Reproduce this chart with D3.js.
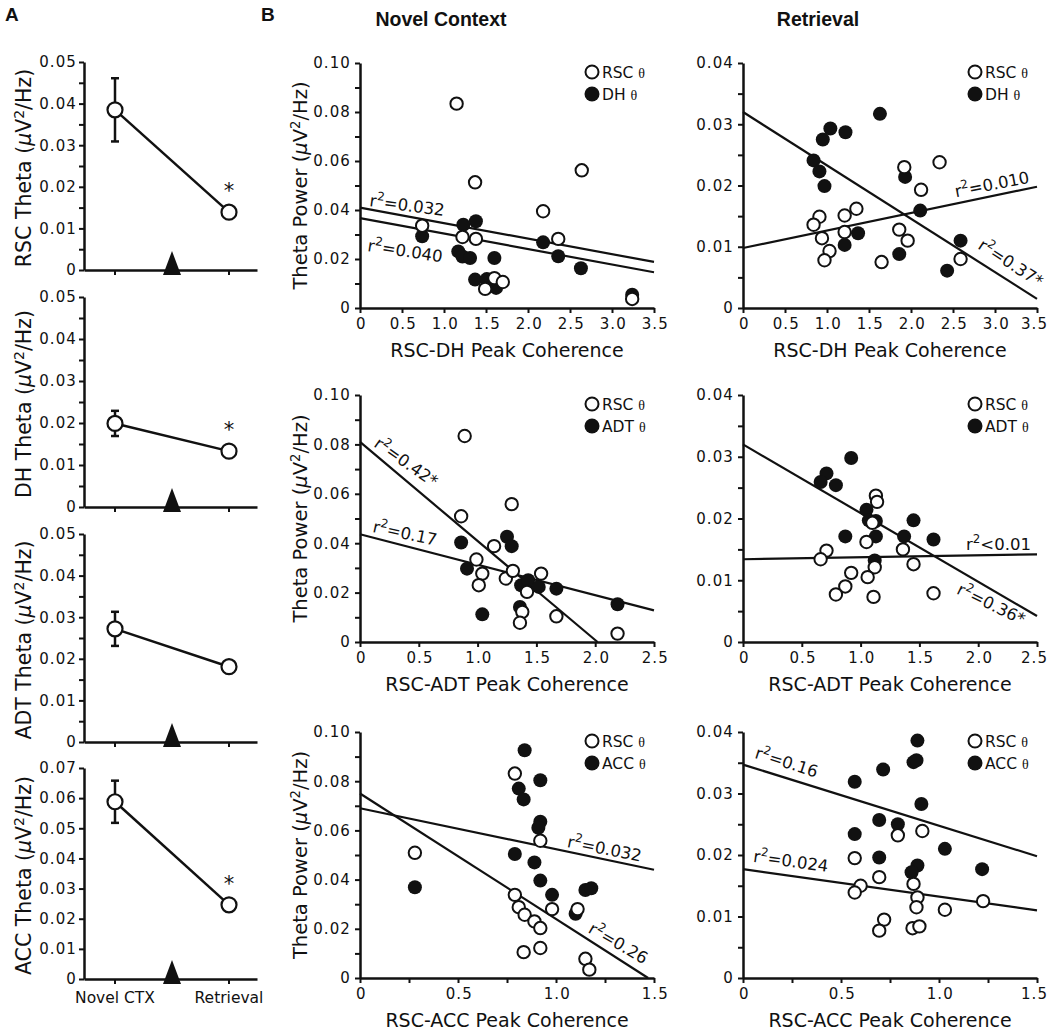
<!DOCTYPE html>
<html><head><meta charset="utf-8">
<script src="https://cdn.jsdelivr.net/npm/d3@7"></script>
<style>body{margin:0;background:#fff}svg{display:block}</style>
</head><body><svg id="c" width="1050" height="1030"></svg>
<script>
// ---------------- DATA ----------------
// Panel A: mean theta power (uV^2/Hz)
const aGroups = ["Novel CTX", "Retrieval"];
const aRegions = ["RSC", "DH", "ADT", "ACC"];
const aNovelMean = [0.0385, 0.0199, 0.0272, 0.0588];
const aNovelSem = [0.0076, 0.0030, 0.0041, 0.0070];
const aRetrievalMean = [0.0139, 0.0133, 0.0181, 0.0246];
const aSignificant = [true, true, false, true];
const aYMax = [0.05, 0.05, 0.05, 0.07];
const aYTickStep = [0.005, 0.005, 0.005, 0.01];

// Panel B scatter data: [coherence, theta power]
const ncDH_rsc = [[1.15,0.0834],[1.37,0.0513],[2.64,0.0562],[2.18,0.0395],[0.74,0.0336],[2.36,0.0282],[1.22,0.029],[1.38,0.0282],[1.60,0.0122],[1.70,0.0106],[1.49,0.0078],[3.24,0.0037]];
const ncDH_dh = [[0.74,0.0293],[1.23,0.034],[1.38,0.0354],[1.17,0.0231],[1.22,0.021],[1.31,0.0204],[1.60,0.0204],[1.37,0.0116],[1.51,0.0118],[1.62,0.0082],[2.18,0.0268],[2.36,0.0211],[2.63,0.0162],[3.24,0.0054]];
const retDH_rsc = [[2.34,0.0238],[1.92,0.0230],[2.12,0.0193],[1.35,0.0162],[1.21,0.0151],[0.91,0.0149],[0.84,0.0136],[0.94,0.0114],[1.21,0.0124],[1.03,0.0093],[0.97,0.0078],[1.65,0.0075],[1.86,0.0128],[1.96,0.0110],[2.59,0.0080]];
const retDH_dh = [[1.63,0.0317],[1.04,0.0293],[0.95,0.0275],[1.22,0.0287],[0.84,0.0241],[0.91,0.0223],[0.97,0.0199],[1.93,0.0214],[2.11,0.0159],[1.37,0.0122],[1.21,0.0103],[1.86,0.0088],[2.59,0.0110],[2.43,0.0061]];
const ncADT_rsc = [[0.89,0.0834],[1.29,0.0558],[0.86,0.0509],[1.14,0.0388],[0.99,0.0334],[1.04,0.0277],[1.01,0.0230],[1.24,0.0257],[1.30,0.0288],[1.54,0.0277],[1.42,0.0203],[1.38,0.0122],[1.36,0.0078],[1.67,0.0104],[2.19,0.0034]];
const ncADT_adt = [[0.86,0.0403],[0.91,0.0297],[1.25,0.0426],[1.29,0.0388],[1.37,0.0230],[1.43,0.0250],[1.52,0.0223],[1.67,0.0216],[1.36,0.0142],[1.04,0.0112],[2.19,0.0153]];
const retADT_rsc = [[1.13,0.0237],[1.14,0.0227],[1.10,0.0193],[1.05,0.0162],[0.71,0.0148],[0.66,0.0134],[1.36,0.0150],[1.45,0.0126],[1.12,0.0121],[0.92,0.0112],[1.06,0.0105],[0.87,0.0090],[0.79,0.0077],[1.11,0.0073],[1.62,0.0079]];
const retADT_adt = [[0.92,0.0298],[0.71,0.0273],[0.66,0.0259],[0.79,0.0254],[1.05,0.0214],[1.07,0.0197],[1.13,0.0196],[1.13,0.0171],[0.87,0.0171],[1.37,0.0171],[1.45,0.0197],[1.62,0.0166],[1.12,0.0132]];
const ncACC_rsc = [[0.79,0.0831],[0.92,0.0558],[0.28,0.0509],[0.79,0.0338],[0.81,0.0288],[0.84,0.0257],[0.89,0.0230],[0.92,0.0203],[0.98,0.0280],[1.11,0.0280],[0.835,0.0105],[0.92,0.0122],[1.15,0.0078],[1.17,0.0034]];
const ncACC_acc = [[0.84,0.0926],[0.92,0.0804],[0.81,0.0770],[0.835,0.0726],[0.92,0.0635],[0.91,0.0611],[0.79,0.0504],[0.89,0.0470],[0.92,0.0396],[0.98,0.0338],[0.28,0.0369],[1.10,0.0261],[1.15,0.0358],[1.18,0.0365]];
const retACC_rsc = [[0.915,0.0239],[0.79,0.0232],[0.57,0.0195],[0.695,0.0164],[0.60,0.0150],[0.57,0.0139],[0.87,0.0153],[0.89,0.0131],[0.885,0.0115],[1.03,0.0111],[1.225,0.0125],[0.72,0.0095],[0.695,0.0077],[0.865,0.0081],[0.90,0.0084]];
const retACC_acc = [[0.89,0.0386],[0.87,0.0351],[0.885,0.0354],[0.715,0.0339],[0.57,0.0319],[0.91,0.0283],[0.695,0.0257],[0.79,0.0250],[0.57,0.0234],[0.695,0.0196],[1.03,0.0210],[0.89,0.0183],[0.86,0.0172],[1.22,0.0177]];

// Regression lines: [x0, y0, x1, y1]
const ncDH_fits = [[0,0.041,3.5,0.0188],[0,0.0367,3.5,0.0146]];
const retDH_fits = [[0,0.032,3.5,0.0015],[0,0.0098,3.5,0.0198]];
const ncADT_fits = [[0,0.081,2.02,0],[0,0.0436,2.5,0.0128]];
const retADT_fits = [[0,0.032,2.5,0.0042],[0,0.0134,2.5,0.0142]];
const ncACC_fits = [[0,0.075,1.47,0],[0,0.069,1.5,0.044]];
const retACC_fits = [[0,0.0347,1.5,0.0198],[0,0.0177,1.5,0.011]];

// r^2 annotations
const ncDH_r2 = ["=0.032", "=0.040"];
const retDH_r2 = ["=0.010", "=0.37*"];
const ncADT_r2 = ["=0.42*", "=0.17"];
const retADT_r2 = ["<0.01", "=0.36*"];
const ncACC_r2 = ["=0.032", "=0.26"];
const retACC_r2 = ["=0.16", "=0.024"];

const columnTitles = ["Novel Context", "Retrieval"];
const rowRegions = ["DH", "ADT", "ACC"];
const rowXMax = [3.5, 2.5, 1.5];
const rowXTickStep = [0.5, 0.5, 0.25];
const colYMax = [0.10, 0.04];

// ---------------- DRAWING ----------------
const svg = d3.select("#c");
const INK = "#111";
const TF = "DejaVu Sans, Verdana, sans-serif";
const HF = "Liberation Sans, Arial, sans-serif";

function styleAxis(g) {
  g.select(".domain").attr("stroke", INK).attr("stroke-width", 2.5);
  g.selectAll(".tick line").attr("stroke", INK).attr("stroke-width", 2);
  g.selectAll(".tick text").attr("fill", INK).style("font-family", TF)
    .style("font-size", "15px").style("letter-spacing", "1.1px");
}
function powerLabel(sel, prefix) {
  sel.append("tspan").text(prefix + "(");
  sel.append("tspan").attr("font-style", "italic").text("\u03BC");
  sel.append("tspan").text("V");
  sel.append("tspan").attr("dy", -7).attr("font-size", "0.68em").text("2");
  sel.append("tspan").attr("dy", 7).text("/Hz)");
}

// Panel letters and headers
svg.append("text").attr("x", 5).attr("y", 21).attr("font-family", HF).attr("font-weight", "bold")
  .attr("font-size", 19).attr("fill", INK).text("A");
svg.append("text").attr("x", 261).attr("y", 21).attr("font-family", HF).attr("font-weight", "bold")
  .attr("font-size", 19).attr("fill", INK).text("B");
const headerX = [441, 818];
columnTitles.forEach((t, i) => {
  svg.append("text").attr("x", headerX[i]).attr("y", 26).attr("text-anchor", "middle")
    .attr("font-family", HF).attr("font-weight", "bold").attr("font-size", 19.5)
    .attr("fill", INK).text(t);
});

// ---- Panel A ----
const aTop = [62, 297, 534, 768];
const aBottom = [270, 507, 742, 979];
const aLeft = 84, aRight = 257;
aRegions.forEach((reg, i) => {
  const y = d3.scaleLinear().domain([0, aYMax[i]]).range([aBottom[i], aTop[i]]);
  const x = d3.scalePoint().domain(aGroups).range([aLeft + 31, aLeft + 145]);
  const n = Math.round(aYMax[i] / aYTickStep[i]);
  const ticks = d3.range(n + 1).map(k => +(k * aYTickStep[i]).toFixed(4));
  const gy = svg.append("g").attr("transform", `translate(${aLeft},0)`)
    .call(d3.axisLeft(y).tickValues(ticks).tickSize(5).tickSizeOuter(0).tickPadding(2)
      .tickFormat(v => (Math.round(v * 1000) % 10 === 0) ? (v === 0 ? "0" : d3.format(".2f")(v)) : ""));
  styleAxis(gy);
  const gx = svg.append("g").attr("transform", `translate(0,${aBottom[i]})`)
    .call(d3.axisBottom(d3.scaleLinear().domain([0, 1]).range([aLeft, aRight])).tickValues([]).tickSizeOuter(0));
  styleAxis(gx);
  aGroups.forEach(gname => {
    svg.append("line").attr("x1", x(gname)).attr("x2", x(gname))
      .attr("y1", aBottom[i]).attr("y2", aBottom[i] + 5).attr("stroke", INK).attr("stroke-width", 2);
  });
  // triangle marker between groups
  const mx = (x(aGroups[0]) + x(aGroups[1])) / 2;
  svg.append("path").attr("d", d3.line()([[mx - 9, aBottom[i] + 5], [mx + 9, aBottom[i] + 5], [mx, aBottom[i] - 19]]) + "Z")
    .attr("fill", INK);
  // connecting line
  svg.append("line").attr("x1", x(aGroups[0])).attr("y1", y(aNovelMean[i]))
    .attr("x2", x(aGroups[1])).attr("y2", y(aRetrievalMean[i])).attr("stroke", INK).attr("stroke-width", 2.5);
  // error bar
  const ex = x(aGroups[0]);
  const lo = y(aNovelMean[i] - aNovelSem[i]), hi = y(aNovelMean[i] + aNovelSem[i]);
  svg.append("line").attr("x1", ex).attr("x2", ex).attr("y1", lo).attr("y2", hi).attr("stroke", INK).attr("stroke-width", 2.5);
  [lo, hi].forEach(yy => svg.append("line").attr("x1", ex - 4).attr("x2", ex + 4).attr("y1", yy).attr("y2", yy)
    .attr("stroke", INK).attr("stroke-width", 2.5));
  // points
  [[aGroups[0], aNovelMean[i]], [aGroups[1], aRetrievalMean[i]]].forEach(([gname, v]) => {
    svg.append("circle").attr("cx", x(gname)).attr("cy", y(v)).attr("r", 7.5)
      .attr("fill", "#fff").attr("stroke", INK).attr("stroke-width", 2.2);
  });
  if (aSignificant[i]) {
    svg.append("text").attr("x", x(aGroups[1])).attr("y", y(aRetrievalMean[i]) - 14)
      .attr("text-anchor", "middle").attr("font-family", TF).attr("font-size", 21).attr("fill", INK).text("*");
  }
  // y label
  const yl = svg.append("text").attr("transform", `translate(31,${(aTop[i] + aBottom[i]) / 2 + 2}) rotate(-90)`)
    .attr("text-anchor", "middle").attr("font-family", TF).attr("font-size", 20.5).attr("fill", INK);
  powerLabel(yl, reg + " Theta ");
  if (i === 3) {
    aGroups.forEach(gname => {
      svg.append("text").attr("x", x(gname)).attr("y", aBottom[i] + 24).attr("text-anchor", "middle")
        .attr("font-family", TF).attr("font-size", 15.5).attr("fill", INK).text(gname);
    });
  }
});

// ---- Panel B ----
const bLeft = [360, 743];
const bTop = [63, 395, 732];
const bBottom = [308, 642, 978];
const bW = 294;
const scatterSets = [
  [[ncDH_rsc, ncDH_dh, ncDH_fits, ncDH_r2], [retDH_rsc, retDH_dh, retDH_fits, retDH_r2]],
  [[ncADT_rsc, ncADT_adt, ncADT_fits, ncADT_r2], [retADT_rsc, retADT_adt, retADT_fits, retADT_r2]],
  [[ncACC_rsc, ncACC_acc, ncACC_fits, ncACC_r2], [retACC_rsc, retACC_acc, retACC_fits, retACC_r2]]
];
// annotation placement (data coords of text start, rotation in degrees)
const r2Place = [
  [[[0.107, 0.0416, 7.5], [0.083, 0.0233, 8.7]], [[2.536, 0.0181, -11], [2.786, 0.0098, 33]]],
  [[[0.11, 0.0794, 35], [0.102, 0.0445, 12]], [[1.896, 0.0149, 0], [1.81, 0.0079, 26]]],
  [[[1.053, 0.0533, 11.3], [1.16, 0.0187, 30]], [[0.056, 0.0358, 17.7], [0.05, 0.0189, 7.8]]]
];

for (let r = 0; r < 3; r++) {
  for (let c = 0; c < 2; c++) {
    const [openPts, fillPts, fits, r2] = scatterSets[r][c];
    const x = d3.scaleLinear().domain([0, rowXMax[r]]).range([bLeft[c], bLeft[c] + bW]);
    const y = d3.scaleLinear().domain([0, colYMax[c]]).range([bBottom[r], bTop[r]]);
    // y axis
    const yStep = c === 0 ? 0.01 : 0.005;
    const yTicks = d3.range(Math.round(colYMax[c] / yStep) + 1).map(k => +(k * yStep).toFixed(4));
    const gy = svg.append("g").attr("transform", `translate(${bLeft[c]},0)`)
      .call(d3.axisLeft(y).tickValues(yTicks).tickSize(5).tickSizeOuter(0).tickPadding(4)
        .tickFormat(v => {
          const lab = c === 0 ? Math.round(v * 100) % 2 === 0 : Math.round(v * 1000) % 10 === 0;
          return lab ? (v === 0 ? "0" : d3.format(".2f")(v)) : "";
        }));
    styleAxis(gy);
    // x axis
    const xStep = rowXTickStep[r];
    const xTicks = d3.range(Math.round(rowXMax[r] / xStep) + 1).map(k => +(k * xStep).toFixed(3));
    const gx = svg.append("g").attr("transform", `translate(0,${bBottom[r]})`)
      .call(d3.axisBottom(x).tickValues(xTicks).tickSize(5).tickSizeOuter(0).tickPadding(5)
        .tickFormat(v => (Math.round(v * 100) % 50 === 0) ? (v === 0 ? "0" : d3.format(".1f")(v)) : ""));
    styleAxis(gx);
    gx.selectAll(".tick text").attr("dx", d => (c === 1 && d === rowXMax[r]) ? "-0.2em" : "0.05em");
    // x title
    svg.append("text").attr("x", bLeft[c] + bW / 2).attr("y", bBottom[r] + 49).attr("text-anchor", "middle")
      .attr("font-family", TF).attr("font-size", 19).attr("fill", INK).text(`RSC-${rowRegions[r]} Peak Coherence`);
    // y title (left column only)
    if (c === 0) {
      const yl = svg.append("text").attr("transform", `translate(307,${(bTop[r] + bBottom[r]) / 2}) rotate(-90)`)
        .attr("text-anchor", "middle").attr("font-family", TF).attr("font-size", 19.5).attr("fill", INK);
      powerLabel(yl, "Theta Power ");
    }
    // fit lines
    fits.forEach(f => {
      svg.append("line").attr("x1", x(f[0])).attr("y1", y(f[1])).attr("x2", x(f[2])).attr("y2", y(f[3]))
        .attr("stroke", INK).attr("stroke-width", 2.2);
    });
    // points: filled first, open on top
    svg.append("g").selectAll("circle").data(fillPts).join("circle")
      .attr("cx", d => x(d[0])).attr("cy", d => y(d[1])).attr("r", 7).attr("fill", INK);
    svg.append("g").selectAll("circle").data(openPts).join("circle")
      .attr("cx", d => x(d[0])).attr("cy", d => y(d[1])).attr("r", 6.2)
      .attr("fill", "#fff").attr("stroke", INK).attr("stroke-width", 2);
    // r^2 labels
    r2.forEach((s, k) => {
      const [px, py, ang] = r2Place[r][c][k];
      const t = svg.append("text").attr("transform", `translate(${x(px)},${y(py)}) rotate(${ang})`)
        .attr("font-family", TF).attr("font-size", 16.5).attr("fill", INK);
      t.append("tspan").text("r");
      t.append("tspan").attr("dy", -7).attr("font-size", "0.72em").text("2");
      t.append("tspan").attr("dy", 7).text(s);
    });
    // legend
    const lx = bLeft[c] + 232, ly = bTop[r] + 9;
    svg.append("circle").attr("cx", lx).attr("cy", ly).attr("r", 6.5).attr("fill", "#fff")
      .attr("stroke", INK).attr("stroke-width", 2);
    svg.append("circle").attr("cx", lx).attr("cy", ly + 22).attr("r", 7.5).attr("fill", INK);
    [["RSC", 0], [rowRegions[r], 22]].forEach(([lab, dy]) => {
      const t = svg.append("text").attr("x", lx + 10).attr("y", ly + dy + 5.5)
        .attr("font-family", TF).attr("font-size", 15.5).attr("fill", INK);
      t.append("tspan").text(lab + " ");
      t.append("tspan").attr("font-family", "Liberation Serif, serif").attr("font-size", 14).text("\u03B8");
    });
  }
}
</script>
</body></html>
